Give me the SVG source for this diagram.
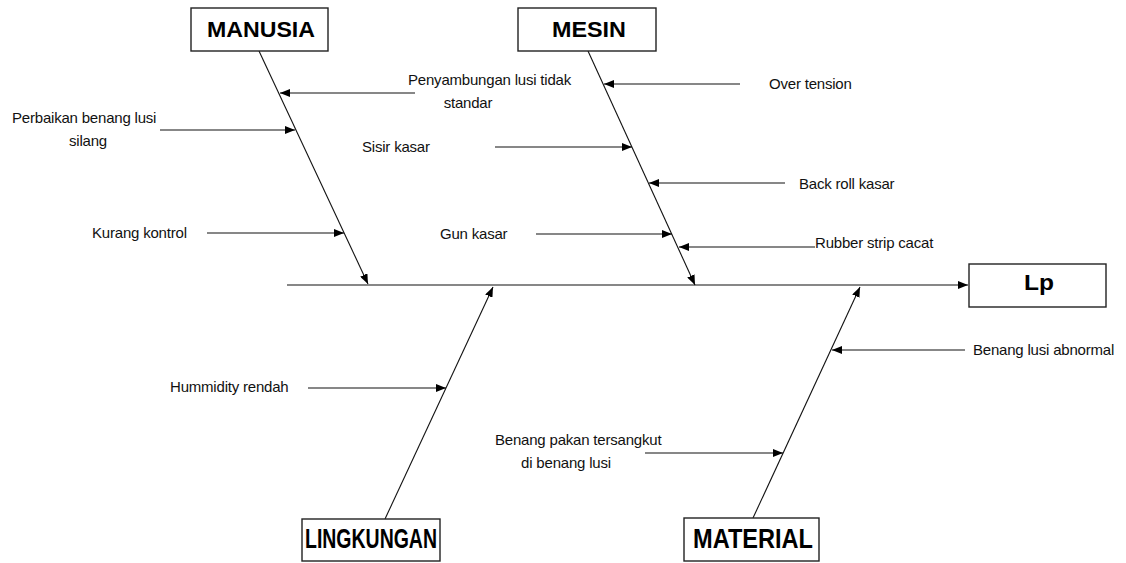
<svg xmlns="http://www.w3.org/2000/svg" width="1126" height="563" viewBox="0 0 1126 563">
<style>
.box{fill:#fff;stroke:#222;stroke-width:1.4}
.title{font-family:"Liberation Sans",Arial,sans-serif;font-weight:bold;font-size:22px;fill:#000}
.big{font-size:27px}
.lbl{font-family:"Liberation Sans",Arial,sans-serif;font-size:15px;letter-spacing:-0.2px;fill:#111}
.c{text-anchor:middle}
.ln{stroke:#111;stroke-width:1.1;fill:none;marker-end:url(#ah)}
</style>
<defs>
<marker id="ah" viewBox="0 0 10 8" refX="10" refY="4" markerWidth="10" markerHeight="8" markerUnits="userSpaceOnUse" orient="auto">
<path d="M0,0 L10,4 L0,8 Z" fill="#000"/>
</marker>
</defs>
<g id="connectors">
<line class="ln" x1="287" y1="285" x2="968" y2="285"/>
<line class="ln" x1="259" y1="51" x2="368" y2="284"/>
<line class="ln" x1="588" y1="51" x2="695" y2="285"/>
<line class="ln" x1="385" y1="519" x2="493" y2="287"/>
<line class="ln" x1="753" y1="518" x2="860" y2="287"/>
<line class="ln" x1="415" y1="93" x2="280" y2="93"/>
<line class="ln" x1="160" y1="130" x2="295" y2="130"/>
<line class="ln" x1="207" y1="233" x2="344" y2="233"/>
<line class="ln" x1="740" y1="84" x2="604" y2="84"/>
<line class="ln" x1="495" y1="147" x2="632" y2="147"/>
<line class="ln" x1="785" y1="183" x2="649" y2="183"/>
<line class="ln" x1="536" y1="234" x2="672" y2="234"/>
<line class="ln" x1="815" y1="247" x2="679" y2="247"/>
<line class="ln" x1="308" y1="388" x2="446" y2="388"/>
<line class="ln" x1="965" y1="350" x2="832" y2="350"/>
<line class="ln" x1="645" y1="453" x2="783" y2="453"/>
</g>
<g id="manusia">
<rect class="box" x="191" y="8" width="137" height="43"/>
<text class="title" x="207" y="37" textLength="108" lengthAdjust="spacingAndGlyphs">MANUSIA</text>
</g>
<g id="mesin">
<rect class="box" x="518" y="8" width="138" height="43"/>
<text class="title" x="552" y="37" textLength="74" lengthAdjust="spacingAndGlyphs">MESIN</text>
</g>
<g id="lp">
<rect class="box" x="969" y="264" width="137" height="43"/>
<text class="title" x="1024" y="290" textLength="30" lengthAdjust="spacingAndGlyphs">Lp</text>
</g>
<g id="lingkungan">
<rect class="box" x="302" y="519" width="138" height="42"/>
<text class="title big" x="305" y="548" textLength="132" lengthAdjust="spacingAndGlyphs">LINGKUNGAN</text>
</g>
<g id="material">
<rect class="box" x="684" y="518" width="135" height="43"/>
<text class="title big" x="693" y="548" textLength="120" lengthAdjust="spacingAndGlyphs">MATERIAL</text>
</g>
<g id="penyambungan">
<text class="lbl" x="408" y="85">Penyambungan lusi tidak</text>
<text class="lbl c" x="468" y="108">standar</text>
</g>
<g id="perbaikan">
<text class="lbl" x="12" y="123">Perbaikan benang lusi</text>
<text class="lbl c" x="88" y="146">silang</text>
</g>
<g id="kurang"><text class="lbl" x="92" y="238">Kurang kontrol</text></g>
<g id="over"><text class="lbl" x="769" y="89">Over tension</text></g>
<g id="sisir"><text class="lbl" x="362" y="152">Sisir kasar</text></g>
<g id="backroll"><text class="lbl" x="799" y="189">Back roll kasar</text></g>
<g id="gun"><text class="lbl" x="440" y="239">Gun kasar</text></g>
<g id="rubber"><text class="lbl" x="815" y="248">Rubber strip cacat</text></g>
<g id="humidity"><text class="lbl" x="170" y="392">Hummidity rendah</text></g>
<g id="abnormal"><text class="lbl" x="973" y="355">Benang lusi abnormal</text></g>
<g id="pakan">
<text class="lbl" x="495" y="445">Benang pakan tersangkut</text>
<text class="lbl c" x="566" y="468">di benang lusi</text>
</g>
</svg>
